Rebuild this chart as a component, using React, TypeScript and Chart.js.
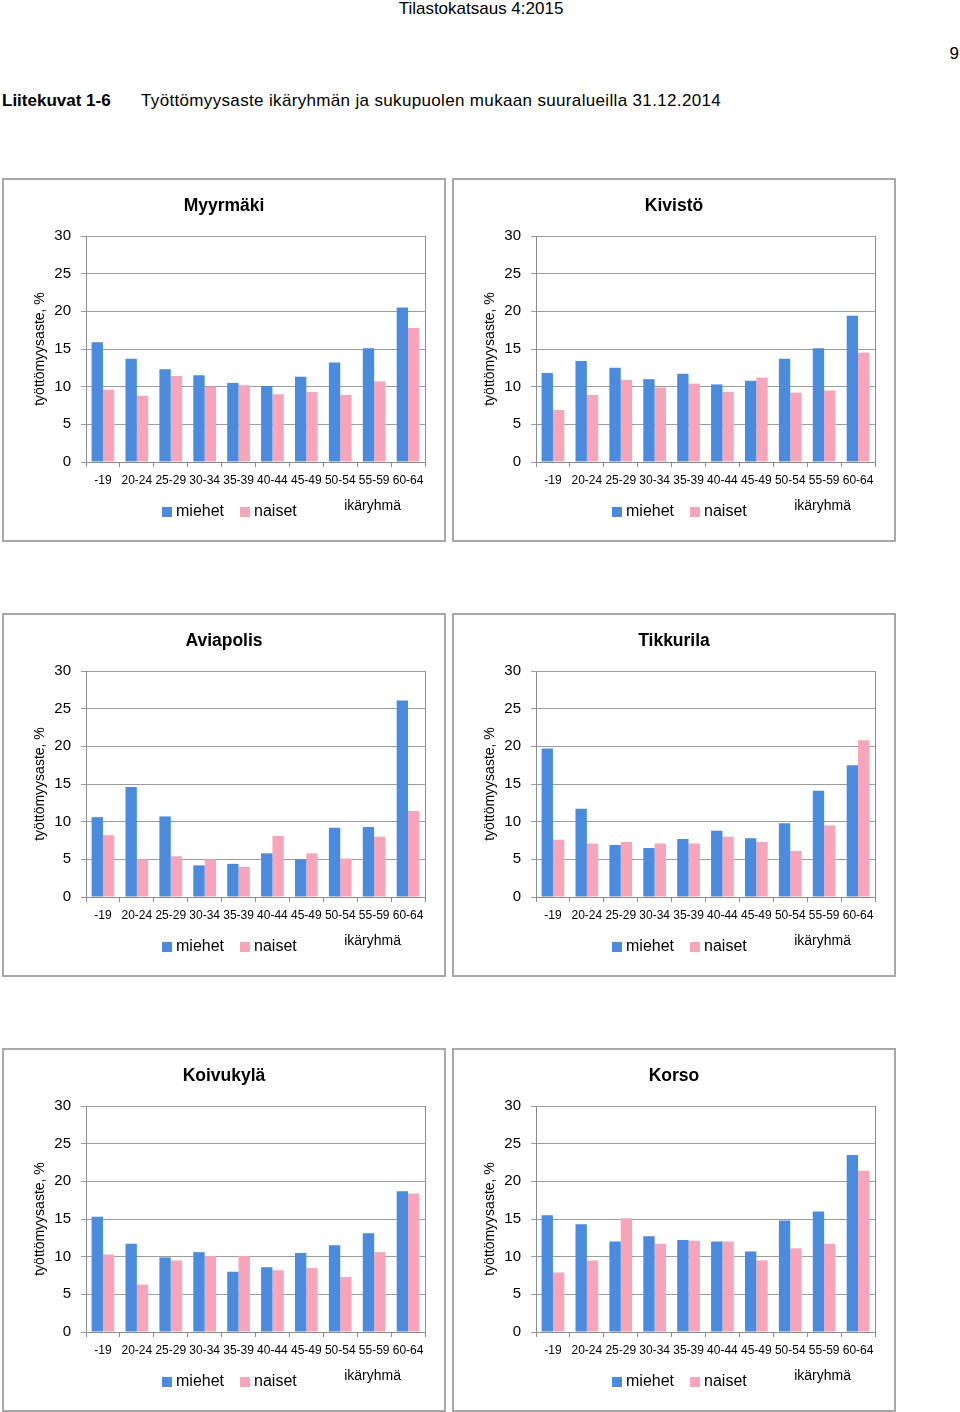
import React, { useEffect, useRef } from "react";
import { Chart, registerables } from "chart.js";

Chart.register(...registerables);

const FONT = '"Liberation Sans", Arial, Helvetica, sans-serif';
Chart.defaults.font.family = FONT;

const categories = ["-19", "20-24", "25-29", "30-34", "35-39", "40-44", "45-49", "50-54", "55-59", "60-64"];
const seriesLabels = ["miehet", "naiset"];
const yAxisTitle = "työttömyysaste, %";
const xAxisTitle = "ikäryhmä";

const myyrmakiMiehet = [15.9, 13.7, 12.3, 11.5, 10.5, 10.1, 11.3, 13.2, 15.1, 20.5];
const myyrmakiNaiset = [9.6, 8.8, 11.4, 10.0, 10.2, 9.0, 9.3, 8.9, 10.7, 17.8];
const kivistoMiehet = [11.8, 13.4, 12.5, 11.0, 11.7, 10.3, 10.8, 13.7, 15.1, 19.4];
const kivistoNaiset = [6.9, 8.9, 10.9, 9.9, 10.4, 9.3, 11.2, 9.2, 9.5, 14.5];
const aviapolisMiehet = [10.6, 14.6, 10.7, 4.2, 4.4, 5.8, 5.0, 9.2, 9.3, 26.1];
const aviapolisNaiset = [8.2, 5.0, 5.4, 5.0, 4.0, 8.1, 5.8, 5.1, 8.0, 11.4];
const tikkurilaMiehet = [19.7, 11.7, 6.9, 6.5, 7.7, 8.8, 7.8, 9.8, 14.1, 17.5];
const tikkurilaNaiset = [7.6, 7.1, 7.3, 7.1, 7.1, 8.0, 7.3, 6.1, 9.5, 20.8];
const koivukylaMiehet = [15.3, 11.7, 9.9, 10.6, 8.0, 8.6, 10.5, 11.5, 13.1, 18.7];
const koivukylaNaiset = [10.3, 6.3, 9.5, 10.1, 10.1, 8.2, 8.5, 7.3, 10.6, 18.4];
const korsoMiehet = [15.5, 14.3, 12.0, 12.7, 12.2, 12.0, 10.7, 14.8, 16.0, 23.5];
const korsoNaiset = [7.9, 9.5, 15.1, 11.7, 12.1, 12.0, 9.5, 11.1, 11.7, 21.4];

const BLUE = "#4a8bdd";
const PINK = "#f8a5b9";
const GRID = "#9c9c9c";
const AXIS = "#8c8c8c";

// x-axis title and legend, drawn on the same row below the category labels
const legendRowPlugin = {
  id: "legendRow",
  afterDraw(chart: any) {
    const { ctx, chartArea } = chart;
    ctx.save();
    ctx.textBaseline = "middle";
    ctx.fillStyle = "#000";
    ctx.font = `14px ${FONT}`;
    ctx.textAlign = "right";
    ctx.fillText(xAxisTitle, chartArea.right - 24, chartArea.bottom + 44);

    ctx.font = `16px ${FONT}`;
    ctx.textAlign = "left";
    const y = chartArea.bottom + 50;
    let x = chart.width / 2 - 62;
    chart.data.datasets.forEach((ds: any) => {
      ctx.fillStyle = ds.backgroundColor;
      ctx.fillRect(x, y - 5, 10, 10);
      x += 14;
      ctx.fillStyle = "#000";
      ctx.fillText(ds.label, x, y);
      x += ctx.measureText(ds.label).width + 16;
    });
    ctx.restore();
  },
};

function Panel({ title, miehet, naiset, left, top }: any) {
  const ref = useRef<HTMLCanvasElement>(null);
  useEffect(() => {
    const chart = new Chart(ref.current as HTMLCanvasElement, {
      type: "bar",
      data: {
        labels: categories,
        datasets: [
          { label: seriesLabels[0], data: miehet, backgroundColor: BLUE, borderWidth: 0, categoryPercentage: 0.67, barPercentage: 1 },
          { label: seriesLabels[1], data: naiset, backgroundColor: PINK, borderWidth: 0, categoryPercentage: 0.67, barPercentage: 1 },
        ],
      },
      options: {
        animation: false,
        responsive: false,
        maintainAspectRatio: false,
        layout: { padding: { left: 0, right: 0, top: 0, bottom: 52 } },
        plugins: {
          title: {
            display: true,
            text: title,
            color: "#000",
            font: { family: FONT, size: 17.5, weight: "bold" },
            padding: { top: 15.5, bottom: 19.5 },
          },
          legend: { display: false },
          tooltip: { enabled: false },
        },
        scales: {
          x: {
            grid: { display: true, drawOnChartArea: false, offset: true, tickLength: 5, color: AXIS },
            border: { color: AXIS },
            ticks: { autoSkip: false, maxRotation: 0, minRotation: 0, padding: 6, color: "#000", font: { family: FONT, size: 12 } },
            afterFit: (s: any) => { s.height = 26; },
          },
          y: {
            min: 0,
            max: 30,
            ticks: { stepSize: 5, padding: 10, color: "#000", font: { family: FONT, size: 15 } },
            grid: { color: GRID, tickLength: 5 },
            border: { color: AXIS },
            title: { display: true, text: yAxisTitle, color: "#000", font: { family: FONT, size: 14 }, padding: { top: 28, bottom: 0 } },
            afterFit: (s: any) => { s.width = 82; },
          },
          y2: {
            position: "right",
            min: 0,
            max: 30,
            grid: { drawOnChartArea: false, drawTicks: false },
            ticks: { display: false },
            border: { color: AXIS },
            afterFit: (s: any) => { s.width = 19; },
          },
        },
      } as any,
      plugins: [legendRowPlugin],
    });
    return () => chart.destroy();
  }, []);
  return (
    <div
      style={{
        position: "absolute",
        left,
        top,
        width: 444,
        height: 364,
        border: "2px solid #a8a8a8",
        boxSizing: "border-box",
        background: "#fff",
      }}
    >
      <canvas ref={ref} width={440} height={360} style={{ position: "absolute", left: 0, top: 0, width: 440, height: 360 }} />
    </div>
  );
}

const panels = [
  { title: "Myyrmäki", miehet: myyrmakiMiehet, naiset: myyrmakiNaiset, left: 2, top: 178 },
  { title: "Kivistö", miehet: kivistoMiehet, naiset: kivistoNaiset, left: 452, top: 178 },
  { title: "Aviapolis", miehet: aviapolisMiehet, naiset: aviapolisNaiset, left: 2, top: 613 },
  { title: "Tikkurila", miehet: tikkurilaMiehet, naiset: tikkurilaNaiset, left: 452, top: 613 },
  { title: "Koivukylä", miehet: koivukylaMiehet, naiset: koivukylaNaiset, left: 2, top: 1048 },
  { title: "Korso", miehet: korsoMiehet, naiset: korsoNaiset, left: 452, top: 1048 },
];

export default function App() {
  const text: any = { position: "absolute", fontFamily: FONT, fontSize: 17, lineHeight: "17px", color: "#000", whiteSpace: "nowrap" };
  return (
    <div style={{ position: "absolute", left: 0, top: 0, width: 960, height: 1412, background: "#fff", overflow: "hidden" }}>
      <div style={{ ...text, left: 0, width: 962, top: 0, textAlign: "center" }}>Tilastokatsaus 4:2015</div>
      <div style={{ ...text, right: 1, top: 45 }}>9</div>
      <div style={{ ...text, left: 2, top: 92, fontWeight: "bold" }}>Liitekuvat 1-6</div>
      <div style={{ ...text, left: 141, top: 92, letterSpacing: "0.34px" }}>Työttömyysaste ikäryhmän ja sukupuolen mukaan suuralueilla 31.12.2014</div>
      {panels.map((p) => (
        <Panel key={p.title} {...p} />
      ))}
    </div>
  );
}
